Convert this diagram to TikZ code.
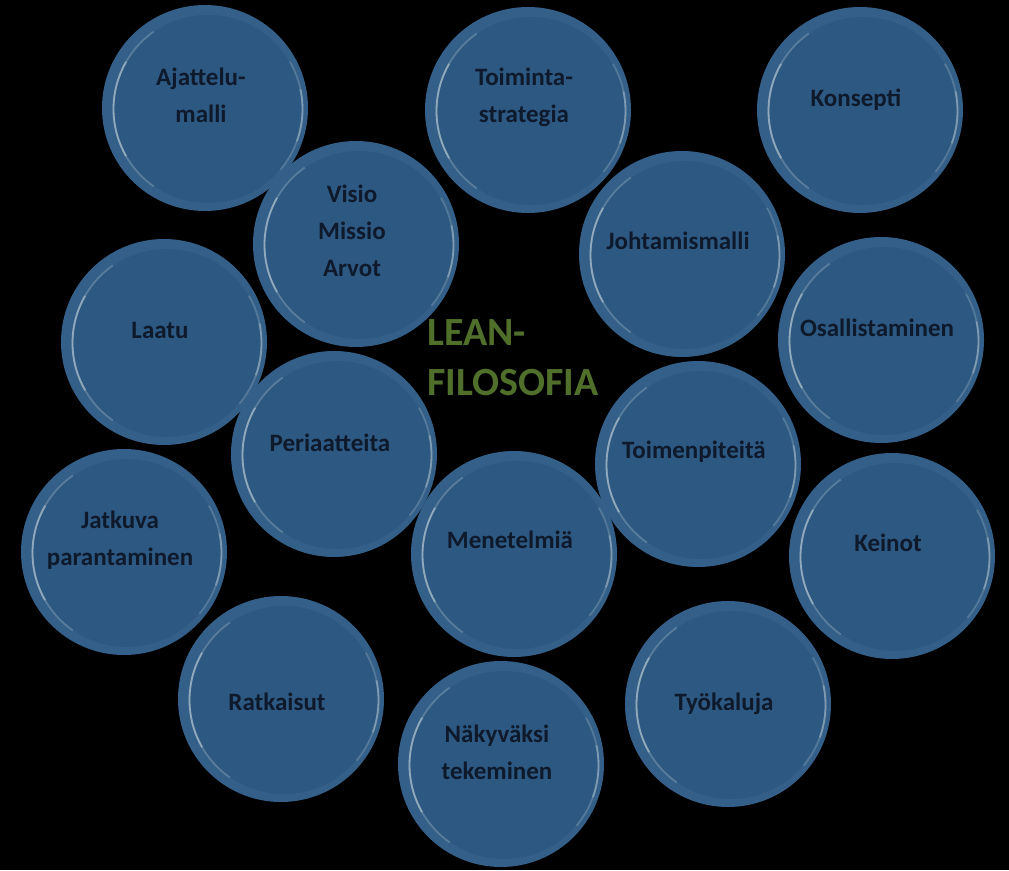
\documentclass[tikz,border=0pt]{standalone}
\usepackage{fontspec}
\setmainfont{Carlito}
\usetikzlibrary{calc}
\definecolor{bubrim}{HTML}{335F89}
\definecolor{bubfill}{HTML}{2D5881}
\definecolor{bubhi}{HTML}{A3B8C6}
\definecolor{bubtxt}{HTML}{0E1A2C}
\definecolor{leangreen}{HTML}{4F6F2A}
\tikzset{
  outerc/.style={circle, minimum size=206pt, inner sep=0pt, fill=bubrim},
  innerc/.style={fill=bubfill},
  hiarc/.style={draw=bubhi, line width=1.8pt},
  lbl/.style={font=\bfseries\fontsize{25}{37}\selectfont, text=bubtxt, align=center, inner sep=0pt},
  title/.style={font=\bfseries\fontsize{40}{50}\selectfont, text=leangreen, align=left, inner sep=0pt},
}
% #1 name, #2 x, #3 y (from top), #4 text, #5 upward text offset
\newcommand\bub[5]{%
  \node[outerc] (#1) at (#2,870-#3) {};
  \coordinate (#1-i) at ($(#1.center)+(3,-1)$);
  \fill[innerc] (#1-i) circle (94pt);
  \draw[hiarc, opacity=0.35] ($(#1-i)+(125:94.5pt)$) arc[start angle=125, end angle=235, radius=94.5pt];
  \draw[hiarc, opacity=0.75] ($(#1-i)+(150:94.5pt)$) arc[start angle=150, end angle=210, radius=94.5pt];
  \draw[hiarc, opacity=0.3] ($(#1-i)+(-40:94.5pt)$) arc[start angle=-40, end angle=30, radius=94.5pt];
  \draw[hiarc, opacity=0.55] ($(#1-i)+(-20:94.5pt)$) arc[start angle=-20, end angle=12, radius=94.5pt];
  \node[lbl] (#1-t) at ($(#1.center)+(-4,#5)$) {#4};
}
\begin{document}
\begin{tikzpicture}[x=1pt,y=1pt]
\fill[black] (0,0) rectangle (1009,870);
\useasboundingbox (0,0) rectangle (1009,870);
\bub{ajattelu}{205}{108}{Ajattelu-\\malli}{13}
\bub{toiminta}{528}{110}{Toiminta-\\strategia}{13}
\bub{konsepti}{860}{110}{Konsepti}{10}
\bub{visio}{356}{244}{Visio\\Missio\\Arvot}{13}
\bub{johtamis}{682}{254}{Johtamismalli}{13}
\bub{laatu}{164}{342}{Laatu}{12}
\bub{osallist}{881}{340}{Osallistaminen}{12}
\bub{periaat}{334}{454}{Periaatteita}{11}
\bub{toimenp}{698}{464}{Toimenpiteitä}{12}
\bub{jatkuva}{124}{552}{Jatkuva\\parantaminen}{12}
\bub{menet}{514}{554}{Menetelmiä}{14}
\bub{keinot}{892}{556}{Keinot}{13}
\bub{ratkaisut}{281}{699}{Ratkaisut}{-3}
\bub{tyokalu}{728}{704}{Työkaluja}{0}
\bub{nakyv}{501}{764}{Näkyväksi\\tekeminen}{12}
\node[title, anchor=west] (lean) at (427,870-358) {LEAN-\\FILOSOFIA};
\end{tikzpicture}
\end{document}
